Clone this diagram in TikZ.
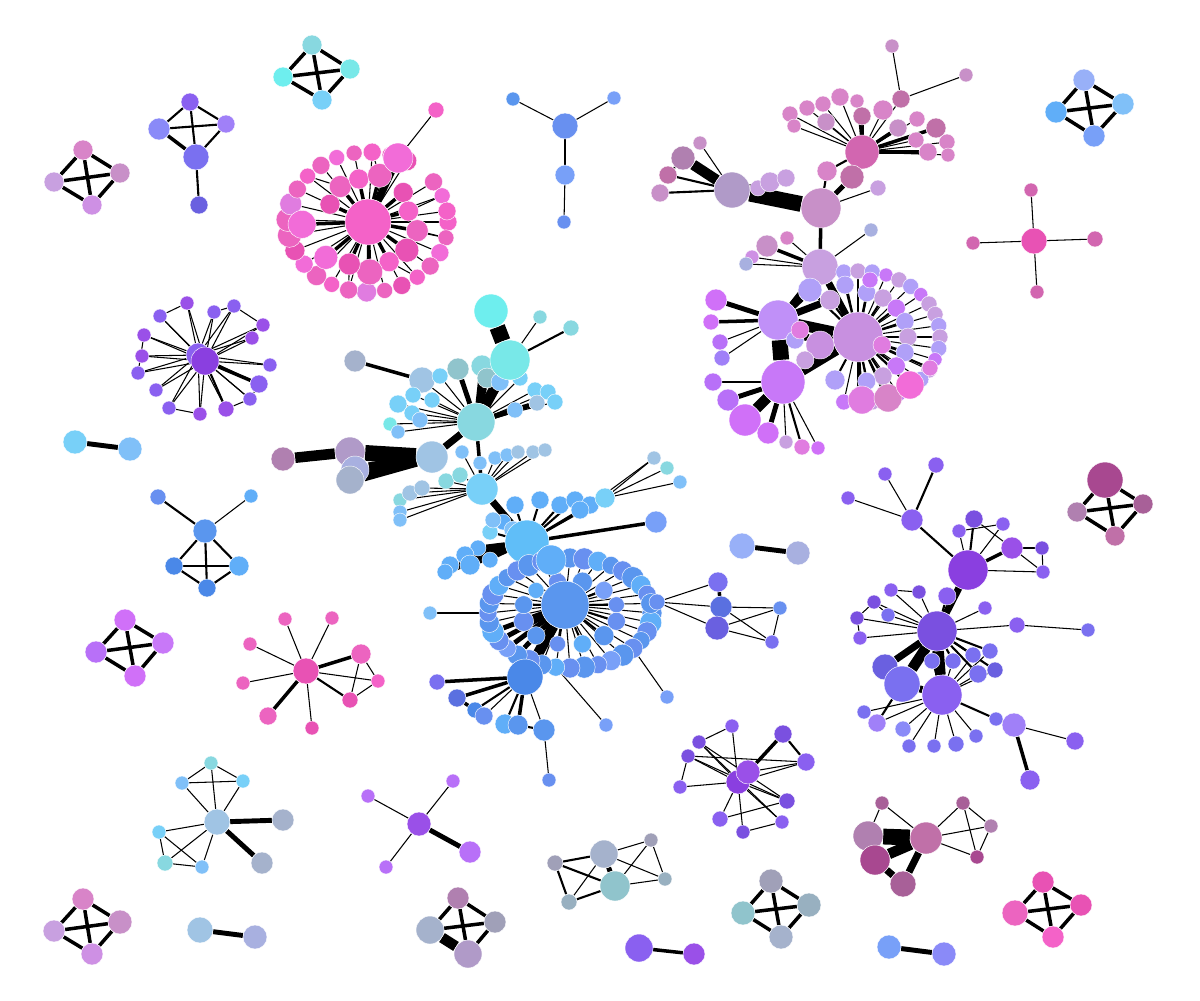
\documentclass[tikz,border=0pt]{standalone}
\pgfdeclarelayer{bg}
\pgfsetlayers{bg,main}
\definecolor{pnk1}{HTML}{F462C8}
\definecolor{pnk2}{HTML}{EC64C0}
\definecolor{pnk3}{HTML}{E852B4}
\definecolor{pnk4}{HTML}{F26CD8}
\definecolor{pnk5}{HTML}{E07CE0}
\definecolor{mau0}{HTML}{D266B0}
\definecolor{mau1}{HTML}{D884C8}
\definecolor{mau2}{HTML}{C890C8}
\definecolor{mau3}{HTML}{C070A8}
\definecolor{mau4}{HTML}{B080B0}
\definecolor{mau5}{HTML}{A84890}
\definecolor{mau6}{HTML}{A86098}
\definecolor{lav1}{HTML}{C8A0E0}
\definecolor{lav2}{HTML}{CE90E4}
\definecolor{lav3}{HTML}{B09AC8}
\definecolor{lav4}{HTML}{C090F8}
\definecolor{lav5}{HTML}{C878F8}
\definecolor{lav6}{HTML}{D070F8}
\definecolor{lav7}{HTML}{B0A0F8}
\definecolor{lav8}{HTML}{C890E0}
\definecolor{pur1}{HTML}{8A3FE0}
\definecolor{pur2}{HTML}{8A60F0}
\definecolor{pur3}{HTML}{7A50E0}
\definecolor{pur4}{HTML}{9A50E8}
\definecolor{pur5}{HTML}{7A70F0}
\definecolor{pur6}{HTML}{6A60E0}
\definecolor{pur7}{HTML}{B870F8}
\definecolor{pur8}{HTML}{A080F8}
\definecolor{pur9}{HTML}{8A8AF8}
\definecolor{blu1}{HTML}{5A96EE}
\definecolor{blu2}{HTML}{6890F0}
\definecolor{blu3}{HTML}{78A0F8}
\definecolor{blu4}{HTML}{4A88E8}
\definecolor{blu5}{HTML}{60AEF8}
\definecolor{blu6}{HTML}{80C0F8}
\definecolor{blu7}{HTML}{60BEF8}
\definecolor{blu8}{HTML}{98B0F8}
\definecolor{blu9}{HTML}{5A70E0}
\definecolor{cya1}{HTML}{78D0F8}
\definecolor{cya2}{HTML}{88D8E0}
\definecolor{cya3}{HTML}{6EEEEE}
\definecolor{cya4}{HTML}{78E8E8}
\definecolor{gry1}{HTML}{A5B2CC}
\definecolor{gry2}{HTML}{A0C4E4}
\definecolor{gry3}{HTML}{A0A0B8}
\definecolor{gry4}{HTML}{98B0C0}
\definecolor{gry5}{HTML}{90C4CC}
\definecolor{gry6}{HTML}{A8B0E0}
\tikzset{
  nd/.style={circle,inner sep=0pt,minimum size=#1*0.2mm,draw=white,line width=0.12pt},
  lk1/.style={line width=0.3pt},
  lk2/.style={line width=0.6pt},
  lk3/.style={line width=1pt},
  lk4/.style={line width=1.4pt},
  lk5/.style={line width=2pt},
  lk6/.style={line width=3pt},
  lk7/.style={line width=4.5pt}
}
\begin{document}
\begin{tikzpicture}[x=0.1mm,y=-0.1mm]
\useasboundingbox (0,0) rectangle (1200,1000);

\node[nd=10,fill=mau1] (ka1) at (83,150) {};
\node[nd=10,fill=lav1] (ka2) at (54,182) {};
\node[nd=10,fill=mau2] (ka3) at (120,173) {};
\node[nd=10,fill=lav2] (ka4) at (92,205) {};

\node[nd=9,fill=pur2] (kb1) at (190,102) {};
\node[nd=11,fill=pur9] (kb2) at (159,129) {};
\node[nd=9,fill=pur8] (kb3) at (226,124) {};
\node[nd=13,fill=pur5] (kb4) at (196,157) {};
\node[nd=9,fill=pur6] (kb5) at (199,205) {};

\node[nd=10,fill=cya2] (kc1) at (312,45) {};
\node[nd=10,fill=cya3] (kc2) at (283,77) {};
\node[nd=10,fill=cya4] (kc3) at (350,69) {};
\node[nd=10,fill=cya1] (kc4) at (322,100) {};

\node[nd=11,fill=blu8] (kd1) at (1084,80) {};
\node[nd=11,fill=blu5] (kd2) at (1056,112) {};
\node[nd=11,fill=blu6] (kd3) at (1123,104) {};
\node[nd=11,fill=blu3] (kd4) at (1094,136) {};

\node[nd=13,fill=blu2] (ys0) at (565,126) {};
\node[nd=7,fill=blu1] (ys1) at (513,99) {};
\node[nd=7,fill=blu3] (ys2) at (614,98) {};
\node[nd=10,fill=blu3] (ys3) at (565,175) {};
\node[nd=7,fill=blu2] (ys4) at (564,222) {};

\node[nd=13,fill=pnk3] (rs0) at (1034,241) {};
\node[nd=7,fill=mau0] (rs1) at (1031,190) {};
\node[nd=7,fill=mau0] (rs2) at (973,243) {};
\node[nd=8,fill=mau0] (rs3) at (1095,239) {};
\node[nd=7,fill=mau0] (rs4) at (1037,292) {};

\node[nd=23,fill=pnk1] (pkh) at (368,222) {};
\foreach \a/\s/\cl [count=\i] in {0/9/pnk1,13/8/pnk2,26/9/pnk4,39/9/pnk2,52/8/pnk1,65/9/pnk3,78/8/pnk2,91/10/pnk5,104/9/pnk2,117/8/pnk1,130/10/pnk2,143/9/pnk4,156/10/pnk3,169/12/pnk2,182/12/pnk2,195/11/pnk5,208/9/pnk2,221/8/pnk1,234/9/pnk2,247/8/pnk4,260/8/pnk2,273/9/pnk1,286/8/pnk2,299/10/pnk3,325/9/pnk2,338/8/pnk4,351/9/pnk1}
  \node[nd=\s,fill=\cl] (pko\i) at ([shift={(\a:80 and 70)}]pkh) {};
\foreach \a/\dd/\s/\cl [count=\i] in {10/50/11/pnk2,36/48/12/pnk3,62/45/10/pnk1,88/50/13/pnk2,114/46/11/pnk3,140/55/12/pnk4,178/66/14/pnk4,205/42/10/pnk3,232/45/11/pnk2,258/44/10/pnk1,284/48/12/pnk2,320/46/10/pnk3,345/42/10/pnk1}
  \node[nd=\s,fill=\cl] (pkm\i) at ([shift={(\a:\dd)}]pkh) {};
\node[nd=15,fill=pnk4] (pkb) at (398,158) {};
\node[nd=8,fill=pnk1] (pkt) at (436,110) {};

\node[nd=7,fill=mau2] (tra) at (892,46) {};
\node[nd=7,fill=mau2] (trb) at (966,75) {};
\node[nd=9,fill=mau3] (trc) at (901,99) {};
\foreach \x/\y/\s/\cl [count=\i] in {790/114/8/mau1,794/126/7/mau1,807/108/8/mau1,823/104/8/mau1,840/97/9/mau1,857/101/7/mau1,883/110/10/mau1,826/122/9/mau2,862/116/9/mau3,898/128/9/mau2,917/119/8/mau1,936/128/10/mau3,947/142/8/mau1,928/152/9/mau1,948/155/7/mau1,916/140/8/mau1}
  \node[nd=\s,fill=\cl] (tf\i) at (\x,\y) {};
\node[nd=17,fill=mau0] (trh) at (862,152) {};
\node[nd=12,fill=mau3] (trd) at (852,177) {};
\node[nd=10,fill=mau1] (tre) at (827,171) {};
\node[nd=12,fill=mau4] (gl1) at (683,158) {};
\node[nd=9,fill=mau3] (gl2) at (668,175) {};
\node[nd=9,fill=mau2] (gl3) at (660,193) {};
\node[nd=7,fill=mau2] (gl4) at (700,143) {};
\node[nd=18,fill=lav3] (trg) at (732,190) {};
\node[nd=8,fill=lav1] (gl7) at (758,188) {};
\node[nd=10,fill=lav1] (gl5) at (770,182) {};
\node[nd=9,fill=lav1] (gl6) at (786,178) {};
\node[nd=20,fill=mau2] (trk) at (821,208) {};
\node[nd=8,fill=lav1] (trm) at (878,188) {};

\node[nd=11,fill=mau2] (lt1) at (767,246) {};
\node[nd=7,fill=mau1] (lt2) at (787,238) {};
\node[nd=7,fill=lav2] (lt3) at (752,257) {};
\node[nd=7,fill=gry6] (lt4) at (746,264) {};
\node[nd=7,fill=gry6] (lt5) at (871,230) {};
\node[nd=18,fill=lav1] (lvt) at (820,267) {};

\node[nd=25,fill=lav8] (lvh) at (858,337) {};
\foreach \a/\s/\cl [count=\i] in {-100/8/lav7,-90/8/lav1,-80/8/lav7,-70/7/lav5,-60/8/lav1,-50/8/lav7,-40/7/lav5,-30/8/lav1,-20/8/lav1,-10/8/lav7,0/8/lav1,10/8/lav7,20/7/lav5,30/8/lav1,40/8/lav7,50/8/lav1,60/7/lav5,70/8/lav7,80/8/lav1,90/8/lav7,100/8/lav5}
  \node[nd=\s,fill=\cl] (lo\i) at ([shift={(\a:82 and 66)}]lvh) {};
\foreach \a/\s/\cl [count=\i] in {-80/9/lav7,-60/9/lav1,-40/9/lav5,-20/9/lav7,0/9/lav1,20/9/lav7,40/9/lav5,60/9/lav1,80/9/lav7}
  \node[nd=\s,fill=\cl] (lnn\i) at ([shift={(\a:50 and 45)}]lvh) {};
\node[nd=20,fill=lav4] (lvl) at (778,320) {};
\node[nd=22,fill=lav5] (lvm) at (783,382) {};
\foreach \x/\y/\s/\cl [count=\i] in {810/290/12/lav7,795/340/9/lav7,830/300/10/lav1,845/285/9/lav7,870/280/8/lav5,820/345/14/lav8,805/360/9/lav1,835/380/10/lav7,860/395/9/lav1,882/345/9/pnk5,800/330/9/pnk5}
  \node[nd=\s,fill=\cl] (li\i) at (\x,\y) {};
\foreach \x/\y/\s/\cl [count=\i] in {862/400/14/pnk5,888/398/14/mau1,910/385/14/pnk4,930/368/8/pnk5}
  \node[nd=\s,fill=\cl] (lp\i) at (\x,\y) {};
\foreach \x/\y/\s/\cl [count=\i] in {716/300/11/lav6,711/322/8/lav6,720/342/8/pur7,722/358/8/pur8}
  \node[nd=\s,fill=\cl] (ll\i) at (\x,\y) {};
\foreach \x/\y/\s/\cl [count=\i] in {713/382/9/pur7,728/400/11/pur7,745/420/16/lav6,768/433/11/lav6,786/442/7/lav1,802/447/8/pnk5,818/448/7/lav6}
  \node[nd=\s,fill=\cl] (lm\i) at (\x,\y) {};

\node[nd=17,fill=cya3] (cy1) at (491,311) {};
\node[nd=7,fill=cya2] (cy3) at (540,317) {};
\node[nd=8,fill=cya2] (cy4) at (571,328) {};
\node[nd=11,fill=gry1] (gr1) at (355,361) {};
\node[nd=13,fill=gry2] (cyg2) at (422,380) {};
\foreach \x/\y/\s/\cl [count=\i] in {458/369/11/gry5,482/366/11/cya2,487/378/10/gry5,500/382/9/blu6,520/378/8/cya1,535/390/8/cya1,548/392/8/cya1,555/402/8/cya1,537/403/8/gry2,515/410/8/blu6,440/376/8/cya1,413/395/8/cya1,432/400/8/cya1,398/404/9/cya1,412/413/8/cya1,390/424/7/cya4,398/432/7/blu6,420/420/8/blu6}
  \node[nd=\s,fill=\cl] (cf\i) at (\x,\y) {};
\node[nd=20,fill=cya4] (cy2) at (510,360) {};
\node[nd=19,fill=cya2] (cyh) at (476,422) {};
\node[nd=12,fill=mau4] (gr2) at (283,459) {};
\node[nd=15,fill=lav3] (gr3) at (350,452) {};
\node[nd=14,fill=gry6] (gr4) at (355,470) {};
\node[nd=14,fill=gry1] (gr5) at (350,480) {};
\node[nd=16,fill=gry2] (cyg) at (432,457) {};
\foreach \x/\y/\s/\cl [count=\i] in {462/452/7/blu6,480/463/7/blu6,495/458/7/blu6,507/455/7/blu6,518/452/7/gry2,533/452/7/gry2,545/450/7/gry2,400/500/7/cya2,400/512/7/blu6,400/520/7/blu6,410/493/8/gry2,422/488/8/gry2,446/481/8/cya2,460/475/8/cya2}
  \node[nd=\s,fill=\cl] (ck\i) at (\x,\y) {};
\node[nd=7,fill=gry2] (cx1) at (654,458) {};
\node[nd=7,fill=cya2] (cx2) at (667,468) {};
\node[nd=7,fill=blu6] (cx3) at (680,482) {};
\node[nd=16,fill=cya1] (cyk) at (482,489) {};
\foreach \x/\y/\s/\cl [count=\i] in {515/505/9/blu5,503/522/8/blu5,490/532/8/cya1,478/548/8/blu5,465/555/9/blu5,450/565/9/blu5,445/572/8/blu5,470/565/10/blu5,490/560/8/blu5,540/500/9/blu5,560/505/9/blu5,575/500/9/blu5,590/505/9/blu5,580/510/9/blu5,605/498/10/cya1,493/520/8/blu6,513/530/9/blu6}
  \node[nd=\s,fill=\cl] (cm\i) at (\x,\y) {};
\node[nd=22,fill=blu7] (cym) at (527,542) {};
\node[nd=11,fill=blu3] (cyp) at (656,522) {};

\coordinate (bpc) at (570,613);
\foreach \a/\s/\cl [count=\i] in {0/10/blu1,10/11/blu5,20/10/blu2,30/9/blu1,40/10/blu2,50/11/blu1,60/10/blu3,70/9/blu2,80/11/blu1,90/10/blu2,100/9/blu5,110/10/blu1,120/11/blu2,130/10/blu1,140/9/blu3,150/10/blu2,160/11/blu5,170/10/blu1,180/9/blu2,190/10/blu1,200/11/blu2,210/10/blu5,220/9/blu1,230/10/blu2,240/11/blu1,250/10/blu2,260/9/blu3,270/10/blu1,280/11/blu2,290/10/blu5,300/9/blu1,310/10/blu2,320/11/blu1,330/10/blu5,340/9/blu2,350/10/blu1}
  \node[nd=\s,fill=\cl] (bo\i) at ([shift={(\a:82 and 55)}]bpc) {};
\foreach \a/\s/\cl [count=\i] in {15/9/blu2,45/10/blu1,75/9/blu5,105/8/blu2,135/9/blu1,165/10/blu2,195/9/blu1,225/8/blu5,255/9/blu2,285/10/blu1,315/9/blu3,345/8/blu2}
  \node[nd=\s,fill=\cl] (bi\i) at ([shift={(\a:48 and 32)}]bpc) {};
\node[nd=15,fill=blu5] (cyn) at (551,560) {};
\node[nd=24,fill=blu1] (bph) at (565,605) {};
\node[nd=7,fill=blu6] (bq1) at (430,613) {};
\node[nd=7,fill=blu3] (bq2) at (606,725) {};
\node[nd=7,fill=blu3] (bq3) at (667,697) {};
\foreach \x/\y/\s/\cl [count=\i] in {437/682/8/pur5,457/698/9/blu9,475/710/8/blu4,484/716/9/blu2,505/724/10/blu5,518/725/10/blu1,544/730/11/blu1}
  \node[nd=\s,fill=\cl] (bk\i) at (\x,\y) {};
\node[nd=7,fill=blu2] (bk8) at (549,780) {};
\node[nd=18,fill=blu4] (bpk) at (525,677) {};
\node[nd=8,fill=blu2] (bpr) at (657,602) {};
\node[nd=10,fill=pur5] (br1) at (718,582) {};
\node[nd=11,fill=blu9] (br2) at (721,607) {};
\node[nd=12,fill=pur6] (br3) at (717,628) {};
\node[nd=7,fill=blu2] (br4) at (780,608) {};
\node[nd=7,fill=pur5] (br5) at (772,642) {};

\node[nd=13,fill=blu8] (pa1) at (742,546) {};
\node[nd=12,fill=gry6] (pa2) at (798,553) {};

\node[nd=11,fill=pur2] (pp1) at (912,520) {};
\node[nd=7,fill=pur2] (pp2) at (885,474) {};
\node[nd=8,fill=pur2] (pp3) at (936,465) {};
\node[nd=7,fill=pur2] (pp4) at (848,498) {};
\node[nd=20,fill=pur1] (pph) at (968,570) {};
\foreach \x/\y/\s/\cl [count=\i] in {974/519/9/pur3,959/531/7/pur2,1003/524/7/pur2,1012/548/11/pur4,1042/548/7/pur3,1043/572/7/pur2}
  \node[nd=\s,fill=\cl] (ph\i) at (\x,\y) {};
\foreach \x/\y/\s/\cl [count=\i] in {891/590/7/pur2,919/592/7/pur3,874/602/7/pur3,888/615/7/pur5,857/618/7/pur3,860/638/7/pur2,947/596/9/pur2,985/608/7/pur2,1017/625/8/pur2}
  \node[nd=\s,fill=\cl] (pq\i) at (\x,\y) {};
\node[nd=7,fill=pur5] (pq10) at (1088,630) {};
\node[nd=20,fill=pur3] (ppk) at (937,631) {};
\foreach \x/\y/\s/\cl [count=\i] in {932/661/8/pur5,953/661/8/pur5,973/655/8/pur5,990/651/8/pur5,978/674/9/pur5,995/670/8/pur6}
  \node[nd=\s,fill=\cl] (pr\i) at (\x,\y) {};
\node[nd=13,fill=pur6] (ppl) at (885,667) {};
\node[nd=18,fill=pur5] (ppm) at (902,684) {};
\node[nd=20,fill=pur2] (ppn) at (942,695) {};
\foreach \x/\y/\s/\cl [count=\i] in {864/712/7/pur5,877/723/9/pur8,903/729/8/pur9,909/746/7/pur5,934/746/7/pur5,956/744/8/pur5,976/736/7/pur5,996/719/7/pur5}
  \node[nd=\s,fill=\cl] (ps\i) at (\x,\y) {};
\node[nd=12,fill=pur8] (pt1) at (1014,725) {};
\node[nd=9,fill=pur2] (pt2) at (1075,741) {};
\node[nd=10,fill=pur2] (pt3) at (1030,780) {};

\node[nd=12,fill=pur1] (bs2) at (738,782) {};
\node[nd=12,fill=pur4] (bs1) at (748,772) {};
\foreach \x/\y/\s/\cl [count=\i] in {732/726/7/pur2,699/742/7/pur3,688/756/7/pur3,680/787/7/pur2,783/734/9/pur3,806/762/9/pur2,787/801/8/pur3,720/819/8/pur2,743/832/7/pur3,782/822/7/pur2}
  \node[nd=\s,fill=\cl] (bt\i) at (\x,\y) {};

\node[nd=12,fill=pur2] (lq) at (198,355) {};
\node[nd=14,fill=pur1] (lp0) at (205,361) {};
\foreach \x/\y/\s/\cl [count=\i] in {187/303/7/pur4,160/316/7/pur2,214/312/7/pur2,234/306/7/pur2,263/325/7/pur4,252/338/7/pur4,144/335/7/pur4,142/356/7/pur4,138/373/7/pur2,156/390/7/pur2,169/408/7/pur2,200/414/7/pur4,226/409/8/pur4,250/399/7/pur2,259/384/9/pur2,270/365/7/pur2}
  \node[nd=\s,fill=\cl] (lr\i) at (\x,\y) {};

\node[nd=12,fill=cya1] (cp1) at (75,442) {};
\node[nd=12,fill=blu6] (cp2) at (130,449) {};

\node[nd=12,fill=blu1] (bk0) at (205,531) {};
\node[nd=8,fill=blu2] (bkl) at (158,497) {};
\node[nd=7,fill=blu5] (bkr) at (251,496) {};
\node[nd=9,fill=blu4] (bkx) at (174,566) {};
\node[nd=10,fill=blu5] (bky) at (239,566) {};
\node[nd=9,fill=blu4] (bkz) at (207,588) {};

\node[nd=11,fill=lav6] (ke1) at (125,620) {};
\node[nd=11,fill=pur7] (ke2) at (96,652) {};
\node[nd=11,fill=lav5] (ke3) at (163,643) {};
\node[nd=11,fill=lav6] (ke4) at (135,676) {};

\node[nd=13,fill=pnk3] (ss0) at (306,671) {};
\foreach \x/\y/\s/\cl [count=\i] in {285/619/7/pnk2,332/618/7/pnk2,250/644/7/pnk2,243/683/7/pnk2,361/654/10/pnk2,378/681/7/pnk1,350/700/8/pnk3,268/716/9/pnk2,312/728/7/pnk3}
  \node[nd=\s,fill=\cl] (ss\i) at (\x,\y) {};

\node[nd=13,fill=gry2] (lb0) at (217,822) {};
\foreach \x/\y/\s/\cl [count=\i] in {211/763/7/cya2,182/783/7/blu6,243/781/7/cya1,159/832/7/cya1,165/863/8/cya2,202/867/7/blu6,283/820/11/gry1,262/863/11/gry1}
  \node[nd=\s,fill=\cl] (lb\i) at (\x,\y) {};

\node[nd=11,fill=mau1] (kf1) at (83,899) {};
\node[nd=11,fill=lav1] (kf2) at (54,931) {};
\node[nd=12,fill=mau2] (kf3) at (120,922) {};
\node[nd=11,fill=lav2] (kf4) at (92,954) {};

\node[nd=13,fill=gry2] (pb1) at (200,930) {};
\node[nd=12,fill=gry6] (pb2) at (255,937) {};

\node[nd=12,fill=pur4] (vs0) at (419,824) {};
\node[nd=7,fill=pur7] (vs1) at (368,796) {};
\node[nd=7,fill=pur7] (vs2) at (453,781) {};
\node[nd=7,fill=pur7] (vs3) at (386,867) {};
\node[nd=11,fill=pur7] (vs4) at (470,852) {};

\node[nd=11,fill=mau4] (kg1) at (458,898) {};
\node[nd=14,fill=gry1] (kg2) at (430,930) {};
\node[nd=11,fill=gry3] (kg3) at (495,922) {};
\node[nd=14,fill=lav3] (kg4) at (468,954) {};

\node[nd=14,fill=gry1] (gs1) at (604,854) {};
\node[nd=15,fill=gry5] (gs2) at (615,886) {};
\node[nd=8,fill=gry3] (gs3) at (555,863) {};
\node[nd=8,fill=gry4] (gs4) at (569,902) {};
\node[nd=7,fill=gry3] (gs5) at (651,840) {};
\node[nd=7,fill=gry4] (gs6) at (665,879) {};

\node[nd=14,fill=pur2] (pc1) at (639,948) {};
\node[nd=11,fill=pur4] (pc2) at (694,954) {};

\node[nd=12,fill=gry3] (kh1) at (771,881) {};
\node[nd=12,fill=gry5] (kh2) at (743,913) {};
\node[nd=12,fill=gry4] (kh3) at (809,905) {};
\node[nd=12,fill=gry1] (kh4) at (781,937) {};

\node[nd=15,fill=mau4] (mc1) at (868,836) {};
\node[nd=15,fill=mau5] (mc2) at (875,860) {};
\node[nd=13,fill=mau6] (mc3) at (903,884) {};
\node[nd=16,fill=mau3] (mc4) at (926,838) {};
\node[nd=7,fill=mau6] (mc5) at (882,803) {};
\node[nd=7,fill=mau6] (mc6) at (963,803) {};
\node[nd=7,fill=mau4] (mc7) at (991,826) {};
\node[nd=7,fill=mau5] (mc8) at (977,857) {};

\node[nd=11,fill=pnk3] (ki1) at (1043,882) {};
\node[nd=13,fill=pnk2] (ki2) at (1015,913) {};
\node[nd=11,fill=pnk3] (ki3) at (1081,905) {};
\node[nd=11,fill=pnk1] (ki4) at (1053,937) {};

\node[nd=12,fill=blu3] (pd1) at (889,947) {};
\node[nd=12,fill=pur9] (pd2) at (944,954) {};

\node[nd=18,fill=mau5] (mt1) at (1105,480) {};
\node[nd=10,fill=mau4] (mt2) at (1077,512) {};
\node[nd=10,fill=mau6] (mt3) at (1143,504) {};
\node[nd=10,fill=mau3] (mt4) at (1115,536) {};

\begin{pgfonlayer}{bg}
\foreach \u/\v in {ka1/ka2,ka1/ka3,ka1/ka4,ka2/ka3,ka2/ka4,ka3/ka4,kc1/kc2,kc1/kc3,kc1/kc4,kc2/kc3,kc2/kc4,kc3/kc4,kd1/kd2,kd1/kd3,kd1/kd4,kd2/kd3,kd2/kd4,kd3/kd4,ke1/ke2,ke1/ke3,ke1/ke4,ke2/ke3,ke2/ke4,ke3/ke4,kf1/kf2,kf1/kf3,kf1/kf4,kf2/kf3,kf2/kf4,kf3/kf4,kh1/kh2,kh1/kh3,kh1/kh4,kh2/kh3,kh2/kh4,kh3/kh4,ki1/ki2,ki1/ki3,ki1/ki4,ki2/ki3,ki2/ki4,ki3/ki4,kg1/kg2,kg1/kg3,kg1/kg4,kg2/kg3,kg3/kg4,mt1/mt2,mt1/mt3,mt1/mt4,mt2/mt3,mt2/mt4,mt3/mt4}
  \draw[lk3] (\u) -- (\v);
\foreach \u/\v in {kb1/kb2,kb1/kb3,kb1/kb4,kb2/kb3,kb3/kb4,kb4/kb5,bk0/bkx,bk0/bky,bk0/bkz,bkx/bky,bkx/bkz,bky/bkz}
  \draw[lk2] (\u) -- (\v);
\draw[lk3] (kb2) -- (kb4);
\draw[lk6] (kg2) -- (kg4);
\draw[lk4] (cp1) -- (cp2);
\draw[lk4] (pb1) -- (pb2);
\draw[lk3] (pc1) -- (pc2);
\draw[lk4] (pd1) -- (pd2);
\draw[lk4] (pa1) -- (pa2);
\draw[lk2] (bk0) -- (bkl);
\draw[lk1] (bk0) -- (bkr);
\foreach \v in {ys1,ys2,ys3} \draw[lk1] (ys0) -- (\v);
\draw[lk1] (ys3) -- (ys4);
\foreach \v in {rs1,rs2,rs3,rs4} \draw[lk1] (rs0) -- (\v);

\foreach \i in {1,...,27} \draw[lk1] (pkh) -- (pko\i);
\foreach \i in {1,...,13} \draw[lk3] (pkh) -- (pkm\i);
\foreach \i/\j in {1/2,3/5,5/9,7/14,9/18,11/22,13/26} \draw[lk1] (pkm\i) -- (pko\j);
\draw[lk5] (pkh) -- (pkb);
\draw[lk1] (pkb) -- (pkt);

\foreach \i in {1,...,16} \draw[lk1] (trh) -- (tf\i);
\foreach \i in {9,10,12,14} \draw[lk3] (trh) -- (tf\i);
\draw[lk1] (trh) -- (trc);
\draw[lk1] (trc) -- (tra);
\draw[lk1] (trc) -- (trb);
\draw[lk7] (trg) -- (trk);
\draw[lk6] (trg) -- (gl1);
\draw[lk2] (trg) -- (gl2);
\draw[lk2] (trg) -- (gl3);
\draw[lk1] (trg) -- (gl4);
\draw[lk2] (gl1) -- (gl2);
\foreach \v in {gl5,gl6,gl7} \draw[lk3] (trg) -- (\v);
\draw[lk4] (trk) -- (trd);
\draw[lk2] (trk) -- (tre);
\draw[lk1] (trk) -- (trm);
\draw[lk3] (trd) -- (trh);
\draw[lk2] (tre) -- (trh);
\draw[lk3] (trk) -- (lvt);
\foreach \v/\w in {lt1/lk3,lt2/lk1,lt3/lk1,lt4/lk1,lt5/lk1} \draw[\w] (lvt) -- (\v);

\draw[lk5] (lvt) -- (lvh);
\draw[lk3] (lvt) -- (lvl);
\draw[lk6] (lvh) -- (lvl);
\draw[lk6] (lvh) -- (lvm);
\draw[lk7] (lvl) -- (lvm);
\foreach \i in {1,...,21} \draw[lk1] (lvh) -- (lo\i);
\foreach \i in {1,...,9} \draw[lk2] (lvh) -- (lnn\i);
\foreach \i in {1,...,11} \draw[lk2] (lvh) -- (li\i);
\foreach \i in {1,3,6} \draw[lk5] (lvl) -- (li\i);
\foreach \i in {1,...,4} \draw[lk2] (lvh) -- (lp\i);
\foreach \i/\w in {1/lk4,2/lk3,3/lk1,4/lk1} \draw[\w] (lvl) -- (ll\i);
\foreach \i/\w in {1/lk2,2/lk4,3/lk6,4/lk4,5/lk1,6/lk2,7/lk1} \draw[\w] (lvm) -- (lm\i);

\draw[lk7] (cy1) -- (cy2);
\draw[lk1] (cy2) -- (cy3);
\draw[lk2] (cy2) -- (cy4);
\draw[lk6] (cy2) -- (cyh);
\draw[lk3] (gr1) -- (cyg2);
\draw[lk1] (cyg2) -- (cyh);
\foreach \i in {1,...,18} \draw[lk1] (cyh) -- (cf\i);
\foreach \i in {1,2,3,9,10} \draw[lk4] (cyh) -- (cf\i);
\draw[lk5] (cyh) -- (cyg);
\draw[lk7] (cyg) -- (gr3);
\draw[lk6] (cyg) -- (gr4);
\draw[lk6] (cyg) -- (gr5);
\draw[lk6] (gr3) -- (gr2);
\draw[lk3] (cyh) -- (cyk);
\foreach \i in {1,...,14} \draw[lk1] (cyk) -- (ck\i);
\foreach \v in {cx1,cx2,cx3} \draw[lk1] (cm15) -- (\v);
\draw[lk1] (cm13) -- (cx1);
\draw[lk5] (cyk) -- (cym);
\foreach \i in {1,...,17} \draw[lk2] (cym) -- (cm\i);
\foreach \i in {4,5,6,7,8} \draw[lk4] (cym) -- (cm\i);
\draw[lk3] (cym) -- (cyp);
\draw[lk4] (cym) -- (cyn);
\draw[lk6] (cyn) -- (bph);
\foreach \i in {1,...,36} \draw[lk1] (bph) -- (bo\i);
\foreach \i in {1,...,12} \draw[lk2] (bph) -- (bi\i);
\foreach \i in {14,15,16,17} \draw[lk4] (bph) -- (bo\i);
\draw[lk1] (bq1) -- (bo19);
\draw[lk1] (bq2) -- (bo11);
\draw[lk1] (bq3) -- (bo5);
\draw[lk6] (bph) -- (bpk);
\foreach \i/\w in {1/lk3,2/lk3,3/lk2,4/lk1,5/lk2,6/lk3,7/lk1} \draw[\w] (bpk) -- (bk\i);
\draw[lk3] (bk2) -- (bk4);
\draw[lk2] (bk6) -- (bk7);
\draw[lk1] (bk7) -- (bk8);
\draw[lk1] (bo1) -- (bpr);
\foreach \v in {br1,br2,br3} \draw[lk1] (bpr) -- (\v);
\draw[lk3] (br1) -- (br2);
\foreach \u/\v in {br2/br4,br2/br5,br3/br4,br3/br5,br4/br5} \draw[lk1] (\u) -- (\v);

\draw[lk1] (pp1) -- (pp2);
\draw[lk2] (pp1) -- (pp3);
\draw[lk1] (pp1) -- (pp4);
\draw[lk2] (pp1) -- (pph);
\foreach \i/\w in {1/lk2,2/lk1,3/lk1,4/lk3,6/lk1} \draw[\w] (pph) -- (ph\i);
\foreach \u/\v in {ph4/ph5,ph4/ph6,ph5/ph6,ph2/ph3,ph1/ph4} \draw[lk1] (\u) -- (\v);
\draw[lk5] (pph) -- (ppk);
\foreach \i in {1,...,9} \draw[lk1] (ppk) -- (pq\i);
\draw[lk2] (ppk) -- (pq7);
\foreach \u/\v in {pq1/pq2,pq3/pq4,pq5/pq6,pq5/pq3,pq9/pq10} \draw[lk1] (\u) -- (\v);
\draw[lk5] (ppk) -- (ppl);
\draw[lk6] (ppk) -- (ppm);
\draw[lk6] (ppk) -- (ppn);
\draw[lk5] (ppm) -- (ppn);
\foreach \i in {1,...,6} \draw[lk1] (ppn) -- (pr\i);
\foreach \i in {1,...,6} \draw[lk2] (ppk) -- (pr\i);
\foreach \i in {1,...,7} \draw[lk1] (ppn) -- (ps\i);
\draw[lk2] (ppm) -- (ps2);
\draw[lk2] (ppn) -- (ps8);
\draw[lk2] (ps8) -- (pt1);
\draw[lk1] (pt1) -- (pt2);
\draw[lk3] (pt1) -- (pt3);

\foreach \i in {1,...,10} \draw[lk1] (bs2) -- (bt\i);
\draw[lk3] (bs1) -- (bt5);
\draw[lk2] (bt5) -- (bt6);
\draw[lk1] (bs1) -- (bt6);
\foreach \u/\v in {bt1/bt2,bt2/bt7,bt3/bt6,bt4/bt3,bt8/bt7,bt9/bt10,bt2/bt10,bt3/bt7} \draw[lk1] (\u) -- (\v);

\foreach \i in {1,...,16} \draw[lk1] (lp0) -- (lr\i);
\foreach \i in {1,...,16} \draw[lk1] (lq) -- (lr\i);
\draw[lk3] (lp0) -- (lr15);
\draw[lk2] (lp0) -- (lr13);
\foreach \u/\v in {lr1/lr2,lr3/lr4,lr4/lr5,lr7/lr9,lr11/lr12,lr13/lr14,lr14/lr15} \draw[lk1] (\u) -- (\v);

\foreach \i in {1,2,3,4,6,9} \draw[lk1] (ss0) -- (ss\i);
\draw[lk3] (ss0) -- (ss5);
\draw[lk3] (ss0) -- (ss8);
\draw[lk2] (ss0) -- (ss7);
\draw[lk1] (ss5) -- (ss7);
\draw[lk1] (ss5) -- (ss6);
\draw[lk1] (ss6) -- (ss7);

\foreach \u/\v in {lb1/lb2,lb1/lb3,lb2/lb3,lb0/lb1,lb0/lb2,lb0/lb3,lb0/lb4,lb0/lb5,lb0/lb6,lb4/lb5,lb4/lb6,lb5/lb6} \draw[lk1] (\u) -- (\v);
\draw[lk4] (lb0) -- (lb7);
\draw[lk4] (lb0) -- (lb8);

\draw[lk1] (vs0) -- (vs1);
\draw[lk1] (vs0) -- (vs2);
\draw[lk1] (vs0) -- (vs3);
\draw[lk4] (vs0) -- (vs4);

\draw[lk4] (gs1) -- (gs2);
\draw[lk2] (gs3) -- (gs1);
\draw[lk2] (gs3) -- (gs2);
\draw[lk2] (gs3) -- (gs4);
\draw[lk2] (gs4) -- (gs2);
\draw[lk1] (gs4) -- (gs1);
\foreach \u/\v in {gs1/gs5,gs1/gs6,gs2/gs5,gs2/gs6,gs5/gs6} \draw[lk1] (\u) -- (\v);

\draw[lk7] (mc1) -- (mc4);
\draw[lk6] (mc2) -- (mc4);
\draw[lk5] (mc2) -- (mc3);
\draw[lk5] (mc3) -- (mc4);
\draw[lk3] (mc1) -- (mc2);
\foreach \u/\v in {mc5/mc1,mc5/mc4,mc6/mc4,mc4/mc7,mc4/mc8,mc6/mc7,mc6/mc8,mc7/mc8} \draw[lk1] (\u) -- (\v);
\end{pgfonlayer}
\end{tikzpicture}
\end{document}
